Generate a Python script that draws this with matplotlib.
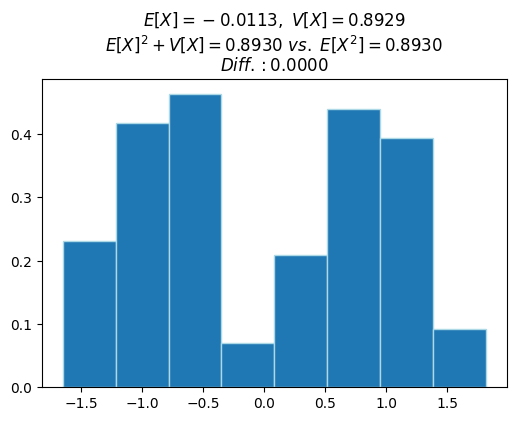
import matplotlib
matplotlib.use('Agg')
import matplotlib.pyplot as plt

# histogram bin edges and densities
bin_edges = [-1.649, -1.216, -0.783, -0.350, 0.083, 0.516, 0.950, 1.383, 1.816]
densities = [0.231, 0.4175, 0.4633, 0.0706, 0.209, 0.4397, 0.3945, 0.0921]

title_lines = [
    r'$E[X]=\:{-}\:0.0113,\ V[X]=0.8929$',
    r'$E[X]^2+V[X]=0.8930\ vs.\ E[X^2]=0.8930$',
    r'$Diff.:0.0000$',
]

fig, ax = plt.subplots(figsize=(6, 4), dpi=100)

# one weight per bin, placed at the left edge of the bin
ax.hist(bin_edges[:-1], bins=bin_edges, weights=densities,
        color='#1f77b4', edgecolor='lightblue', linewidth=1)

ax.set_title('\n'.join(title_lines))

fig.savefig('out.png', dpi=100, bbox_inches='tight')
